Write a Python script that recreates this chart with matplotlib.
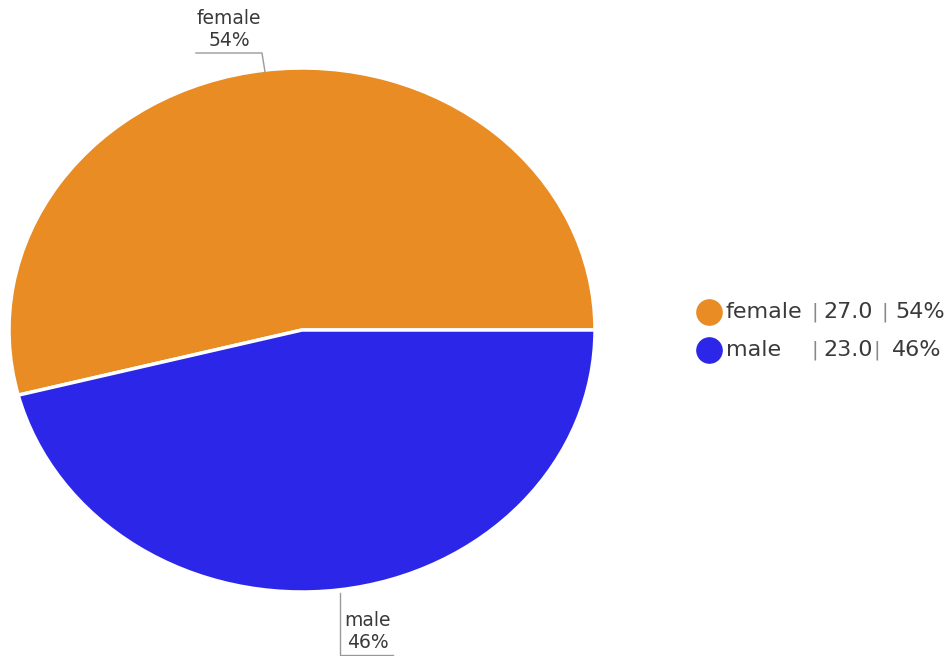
import matplotlib
matplotlib.use("Agg")
import matplotlib.pyplot as plt

# data
labels = ["female", "male"]
values = [27.0, 23.0]
colors = ["#E88C23", "#2C27E8"]
total = sum(values)
pcts = [v / total * 100 for v in values]

plt.rcParams['font.family'] = ['DejaVu Sans']
W, H = 952, 656
fig = plt.figure(figsize=(W / 100, H / 100), dpi=100)

# pie axes (stretched ellipse in pixel box 9..595 x 68..592)
pie_ax = fig.add_axes([9 / W, 1 - 592 / H, 586 / W, 524 / H])
pie_ax.pie(values, colors=colors, startangle=0, counterclock=True,
           wedgeprops=dict(edgecolor="white", linewidth=2.5))
pie_ax.set_aspect("auto")
pie_ax.set_xlim(-1, 1)
pie_ax.set_ylim(-1, 1)
pie_ax.axis("off")

# overlay axes in pixel coordinates for labels and legend
ax = fig.add_axes([0, 0, 1, 1])
ax.set_xlim(0, W)
ax.set_ylim(H, 0)
ax.axis("off")

text_col = "#3a3a3a"
line_col = "#9a9a9a"

# callout labels
ax.plot([265, 262, 196], [72, 53, 53], color=line_col, lw=1)
ax.text(229, 18, labels[0], ha="center", va="center", fontsize=13.5, color=text_col)
ax.text(229, 40, f"{pcts[0]:.0f}%", ha="center", va="center", fontsize=13.5, color=text_col)

ax.plot([340, 340, 393], [593, 655, 655], color=line_col, lw=1)
ax.text(368, 621, labels[1], ha="center", va="center", fontsize=13.5, color=text_col)
ax.text(368, 643, f"{pcts[1]:.0f}%", ha="center", va="center", fontsize=13.5, color=text_col)

# legend
rows_y = [312, 350]
sep2_x = [885, 877]
pct_x = [895, 892]
for i in range(len(labels)):
    y = rows_y[i]
    ax.scatter([709], [y], s=330, color=colors[i], zorder=3)
    ax.text(726, y, labels[i], ha="left", va="center", fontsize=16, color=text_col)
    ax.text(815, y, "|", ha="center", va="center", fontsize=14, color="#888888")
    ax.text(823, y, f"{values[i]:.1f}", ha="left", va="center", fontsize=16, color=text_col)
    ax.text(sep2_x[i], y, "|", ha="center", va="center", fontsize=14, color="#888888")
    ax.text(pct_x[i], y, f"{pcts[i]:.0f}%", ha="left", va="center", fontsize=16, color=text_col)

fig.savefig("out.png", dpi=100)
